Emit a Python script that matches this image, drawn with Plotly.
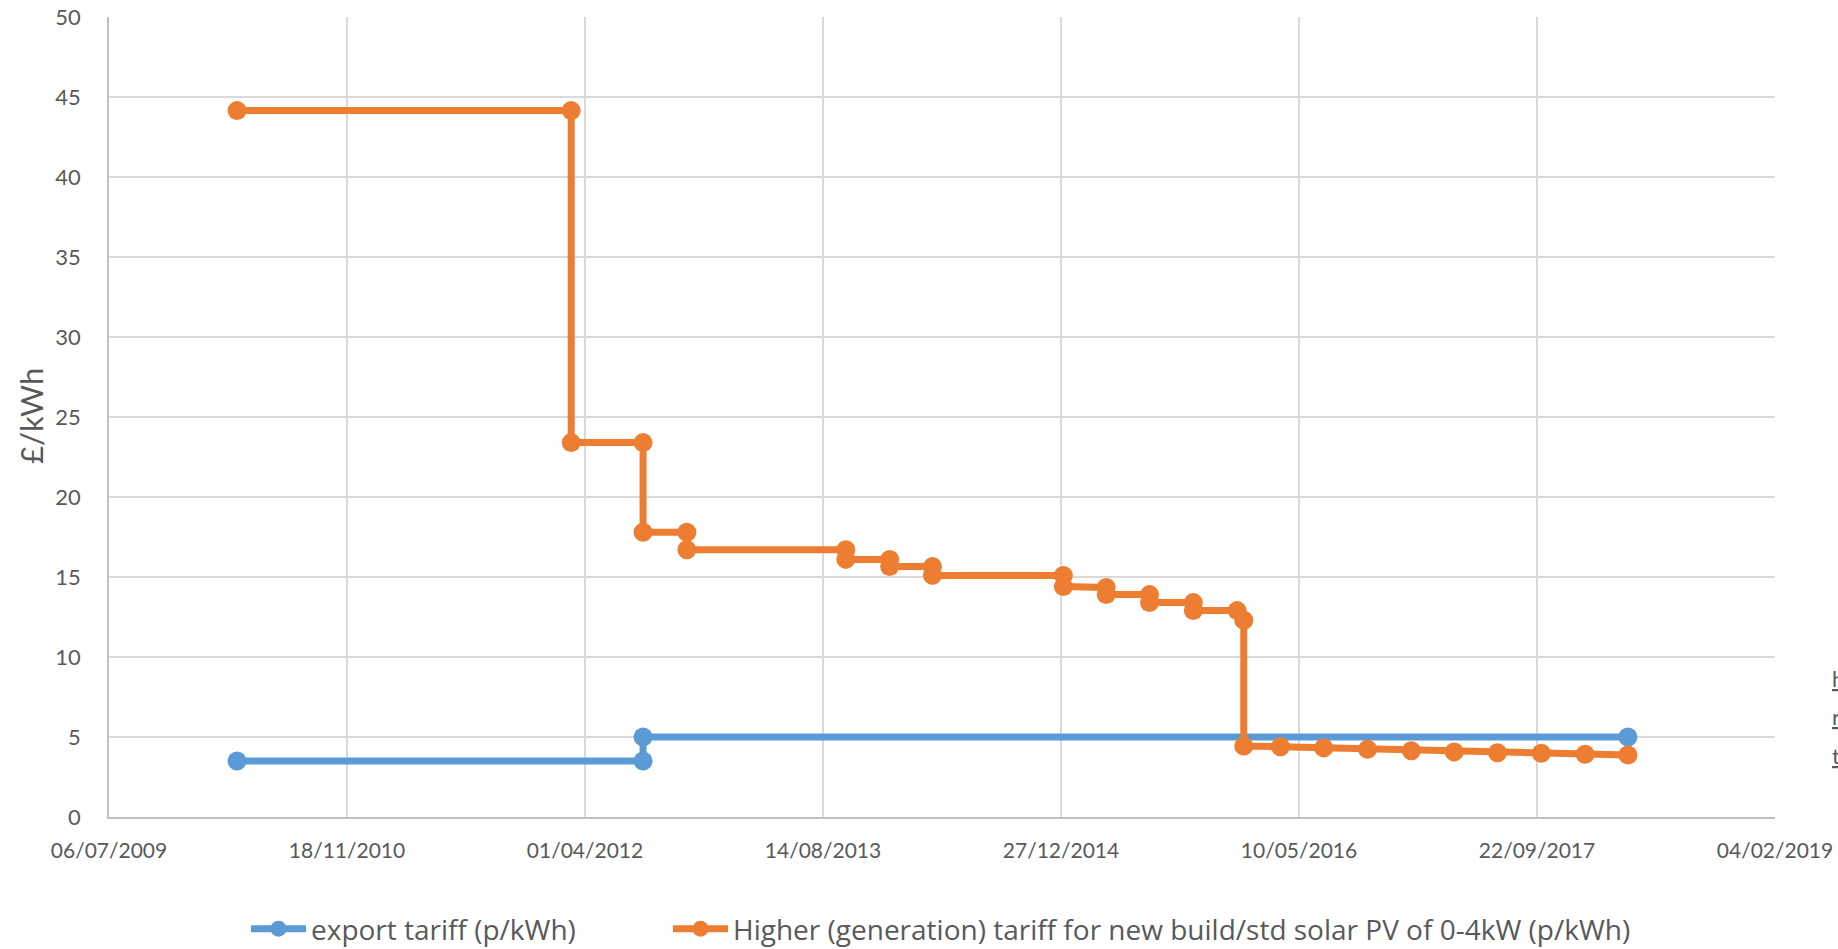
import plotly.graph_objects as go

# Export tariff (p/kWh)
export_dates = ["2010-04-01", "2012-08-01", "2012-08-01", "2018-04-01"]
export_values = [3.5, 3.5, 5.0, 5.0]

# Generation tariff for new build / standard solar PV 0-4kW (p/kWh)
gen_dates = [
    "2010-04-01", "2012-03-03", "2012-03-03", "2012-08-01", "2012-08-01",
    "2012-11-01", "2012-11-01", "2013-10-01", "2013-10-01", "2014-01-01",
    "2014-01-01", "2014-04-01", "2014-04-01", "2015-01-01", "2015-01-01",
    "2015-04-01", "2015-04-01", "2015-07-01", "2015-07-01", "2015-10-01",
    "2015-10-01", "2016-01-01", "2016-01-15", "2016-01-15", "2016-04-01",
    "2016-07-01", "2016-10-01", "2017-01-01", "2017-04-01", "2017-07-01",
    "2017-10-01", "2018-01-01", "2018-04-01",
]
gen_values = [
    44.15, 44.15, 23.4, 23.4, 17.8,
    17.8, 16.7, 16.7, 16.1, 16.1,
    15.65, 15.65, 15.1, 15.1, 14.4,
    14.35, 13.9, 13.9, 13.4, 13.4,
    12.9, 12.9, 12.3, 4.44, 4.39,
    4.32, 4.23, 4.14, 4.07, 4.02,
    3.98, 3.92, 3.88,
]

x_ticks = ["2009-07-06", "2010-11-18", "2012-04-01", "2013-08-14",
           "2014-12-27", "2016-05-10", "2017-09-22", "2019-02-04"]
x_tick_labels = ["06/07/2009", "18/11/2010", "01/04/2012", "14/08/2013",
                 "27/12/2014", "10/05/2016", "22/09/2017", "04/02/2019"]

series_names = ["export tariff (p/kWh)",
                "Higher (generation) tariff for new build/std solar PV of 0-4kW (p/kWh)"]

BLUE = "#5B9BD5"
ORANGE = "#ED7D31"
GREY = "#595959"
FONT = "Lato, 'Open Sans', sans-serif"
LEGEND_FONT = "'Open Sans', Lato, sans-serif"

fig = go.Figure()
fig.add_trace(go.Scatter(
    x=export_dates, y=export_values, name=series_names[0],
    mode="lines+markers",
    line=dict(color=BLUE, width=7),
    marker=dict(color=BLUE, size=19),
    legend="legend",
))
fig.add_trace(go.Scatter(
    x=gen_dates, y=gen_values, name=series_names[1],
    mode="lines+markers",
    line=dict(color=ORANGE, width=7),
    marker=dict(color=ORANGE, size=19),
    legend="legend2",
))

W, H = 1838, 949
L, R, T, B = 109, 63, 17, 132
PW, PH = W - L - R, H - T - B

def px_x(p):
    return (p - L) / PW

def px_y(p):
    return (H - B - p) / PH

legend_common = dict(
    orientation="h", yanchor="middle", xanchor="left",
    font=dict(family=LEGEND_FONT, size=28, color=GREY),
    bgcolor="rgba(0,0,0,0)", itemwidth=55, tracegroupgap=0,
)

fig.update_layout(
    width=W, height=H,
    margin=dict(l=L, r=R, t=T, b=B, autoexpand=False),
    paper_bgcolor="white", plot_bgcolor="white",
    font=dict(family=FONT, color=GREY),
    showlegend=True,
    legend=dict(x=px_x(246), y=px_y(929), **legend_common),
    legend2=dict(x=px_x(668), y=px_y(929), visible=True, **legend_common),
    xaxis=dict(
        type="date",
        range=[x_ticks[0], x_ticks[-1]],
        tickmode="array", tickvals=x_ticks, ticktext=x_tick_labels,
        showgrid=True, gridcolor="#d9d9d9", gridwidth=1.5,
        showline=True, linecolor="#bfbfbf", linewidth=1.5,
        ticks="", ticklabelstandoff=14,
        tickfont=dict(family=FONT, size=21, color=GREY),
        automargin=False, zeroline=False,
    ),
    yaxis=dict(
        range=[0, 50], dtick=5, tick0=0,
        showgrid=True, gridcolor="#d9d9d9", gridwidth=1.5,
        showline=True, linecolor="#bfbfbf", linewidth=1.5,
        ticks="", ticklabelstandoff=22,
        tickfont=dict(family=FONT, size=22, color=GREY),
        automargin=False, zeroline=False,
    ),
    annotations=[
        dict(text="£/kWh", xref="paper", yref="paper",
             x=px_x(31), y=px_y(416), xanchor="center", yanchor="middle",
             textangle=-90, showarrow=False,
             font=dict(family=FONT, size=31, color=GREY)),
        dict(text="<u>h</u>", xref="paper", yref="paper",
             x=px_x(1830), y=px_y(678), xanchor="left", yanchor="middle",
             showarrow=False, font=dict(family=FONT, size=22, color=GREY)),
        dict(text="<u>r</u>", xref="paper", yref="paper",
             x=px_x(1830), y=px_y(716), xanchor="left", yanchor="middle",
             showarrow=False, font=dict(family=FONT, size=22, color=GREY)),
        dict(text="<u>t</u>", xref="paper", yref="paper",
             x=px_x(1830), y=px_y(755), xanchor="left", yanchor="middle",
             showarrow=False, font=dict(family=FONT, size=22, color=GREY)),
    ],
)

fig.write_html("out.html")
